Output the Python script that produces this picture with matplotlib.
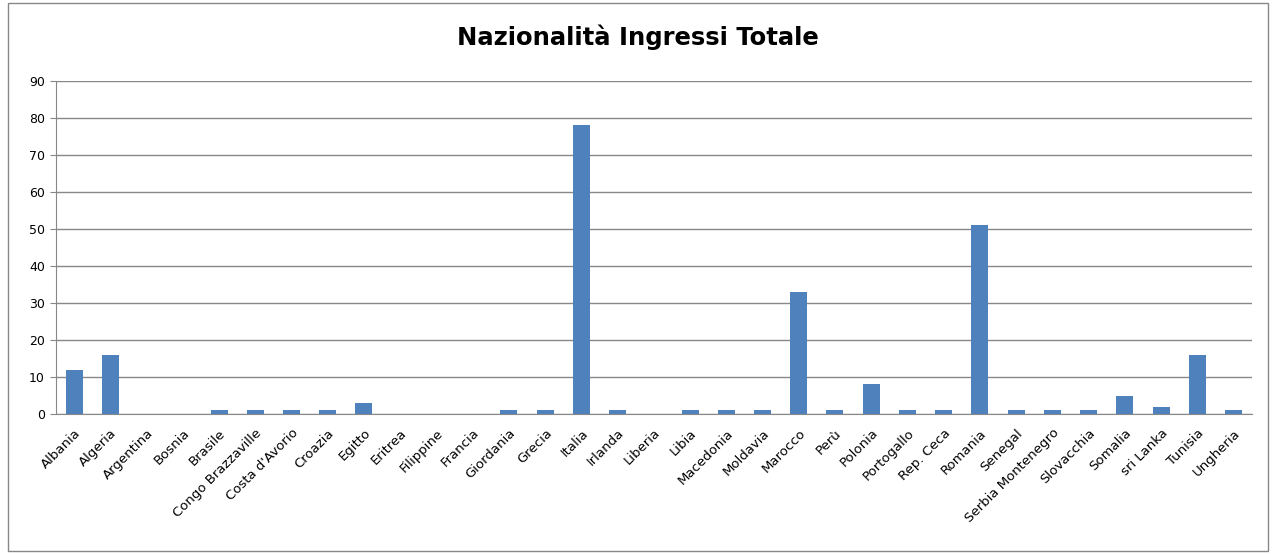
import matplotlib.pyplot as plt
from matplotlib.patches import Rectangle

paesi = ['Albania', 'Algeria', 'Argentina', 'Bosnia', 'Brasile', 'Congo Brazzaville',
         "Costa d'Avorio", 'Croazia', 'Egitto', 'Eritrea', 'Filippine', 'Francia',
         'Giordania', 'Grecia', 'Italia', 'Irlanda', 'Liberia', 'Libia', 'Macedonia',
         'Moldavia', 'Marocco', 'Perù', 'Polonia', 'Portogallo', 'Rep. Ceca', 'Romania',
         'Senegal', 'Serbia Montenegro', 'Slovacchia', 'Somalia', 'sri Lanka', 'Tunisia',
         'Ungheria']
ingressi = [12, 16, 0, 0, 1, 1, 1, 1, 3, 0, 0, 0, 1, 1, 78, 1, 0, 1, 1, 1, 33, 1, 8,
            1, 1, 51, 1, 1, 1, 5, 2, 16, 1]
y_ticks = [0, 10, 20, 30, 40, 50, 60, 70, 80, 90]

plt.rcParams['font.family'] = ['DejaVu Sans']

fig = plt.figure(figsize=(12.76, 5.54), dpi=100)
# chart area border
fig.patches.append(Rectangle((0.006, 0.006), 0.988, 0.988, transform=fig.transFigure,
                             fill=False, edgecolor='#888888', linewidth=1))
ax = fig.add_axes([0.0439, 0.2527, 0.937, 0.601])

x = range(len(paesi))
ax.bar(x, ingressi, width=0.47, color='#4F81BD', zorder=3)

ax.set_xlim(-0.5, len(paesi) - 0.5)
ax.set_ylim(0, 90)
ax.set_yticks(y_ticks)
ax.set_yticklabels([str(v) for v in y_ticks], fontsize=9)
ax.yaxis.grid(True, color='#888888', linewidth=1, zorder=0)
ax.set_xticks(list(x))
ax.set_xticklabels(paesi, rotation=45, ha='right', rotation_mode='anchor', fontsize=9.5)
ax.tick_params(axis='x', length=0, pad=9)
ax.tick_params(axis='y', length=4, color='#888888', pad=4)

for s in ['top', 'right']:
    ax.spines[s].set_visible(False)
for s in ['left', 'bottom']:
    ax.spines[s].set_color('#888888')

fig.text(0.5, 0.932, 'Nazionalità Ingressi Totale', ha='center', va='center',
         fontsize=17.5, fontweight='bold')

fig.savefig('out.png', dpi=100)
